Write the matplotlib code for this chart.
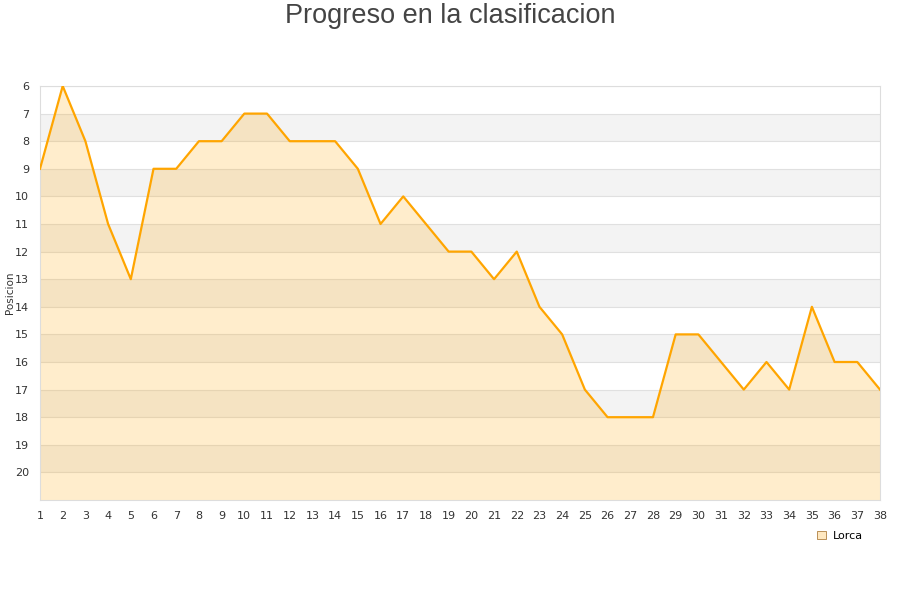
import matplotlib
matplotlib.use("Agg")
import matplotlib.pyplot as plt
from matplotlib.patches import Patch

jornadas = list(range(1, 39))
posiciones = [9, 6, 8, 11, 13, 9, 9, 8, 8, 7, 7, 8, 8, 8, 9, 11, 10, 11, 12, 12,
              13, 12, 14, 15, 17, 18, 18, 18, 15, 15, 16, 17, 16, 17, 14, 16, 16, 17]
y_ticks = list(range(6, 21))
title = "Progreso en la clasificacion"
ylabel = "Posicion"
team = "Lorca"

fig = plt.figure(figsize=(9, 6), dpi=100)
ax = fig.add_axes([40/900, 1-500/600, 840/900, 414/600])

ymin, ymax = 6, 21
for k in range(ymin, ymax):
    if (k - ymin) % 2 == 1:
        ax.axhspan(k, k + 1, color="#f3f3f3", zorder=0, lw=0)

for k in range(ymin, ymax):
    ax.axhline(k, color="#e0e0e0", lw=0.8, zorder=1)

ax.fill_between(jornadas, posiciones, ymax, color="#ffa500", alpha=0.2, lw=0, zorder=2)
ax.plot(jornadas, posiciones, color="#ffa500", lw=1.6, zorder=3)

ax.set_xlim(1, 38)
ax.set_ylim(ymax, ymin)
ax.set_xticks(jornadas)
ax.set_yticks(y_ticks)
ax.tick_params(axis="both", length=0, labelsize=8, colors="#333333")
ax.tick_params(axis="x", pad=8)
ax.tick_params(axis="y", pad=8)
for s in ax.spines.values():
    s.set_color("#dddddd")
    s.set_linewidth(0.8)

fig.text(10/900, 1-293/600, ylabel, rotation=90, ha="center", va="center",
         fontsize=7.5, color="#333333")
fig.text(0.5, 1-16/600, title, ha="center", va="center", fontsize=19.5,
         color="#444444", family="Liberation Sans")

leg = fig.legend(handles=[Patch(facecolor="#ffe8c0", edgecolor="#b08040", lw=0.6, label=team)],
                 loc="center", bbox_to_anchor=(840/900, 1-536/600), frameon=False,
                 fontsize=8, handlelength=0.8, handleheight=0.8, handletextpad=0.6)

fig.savefig("out.png", dpi=100)
